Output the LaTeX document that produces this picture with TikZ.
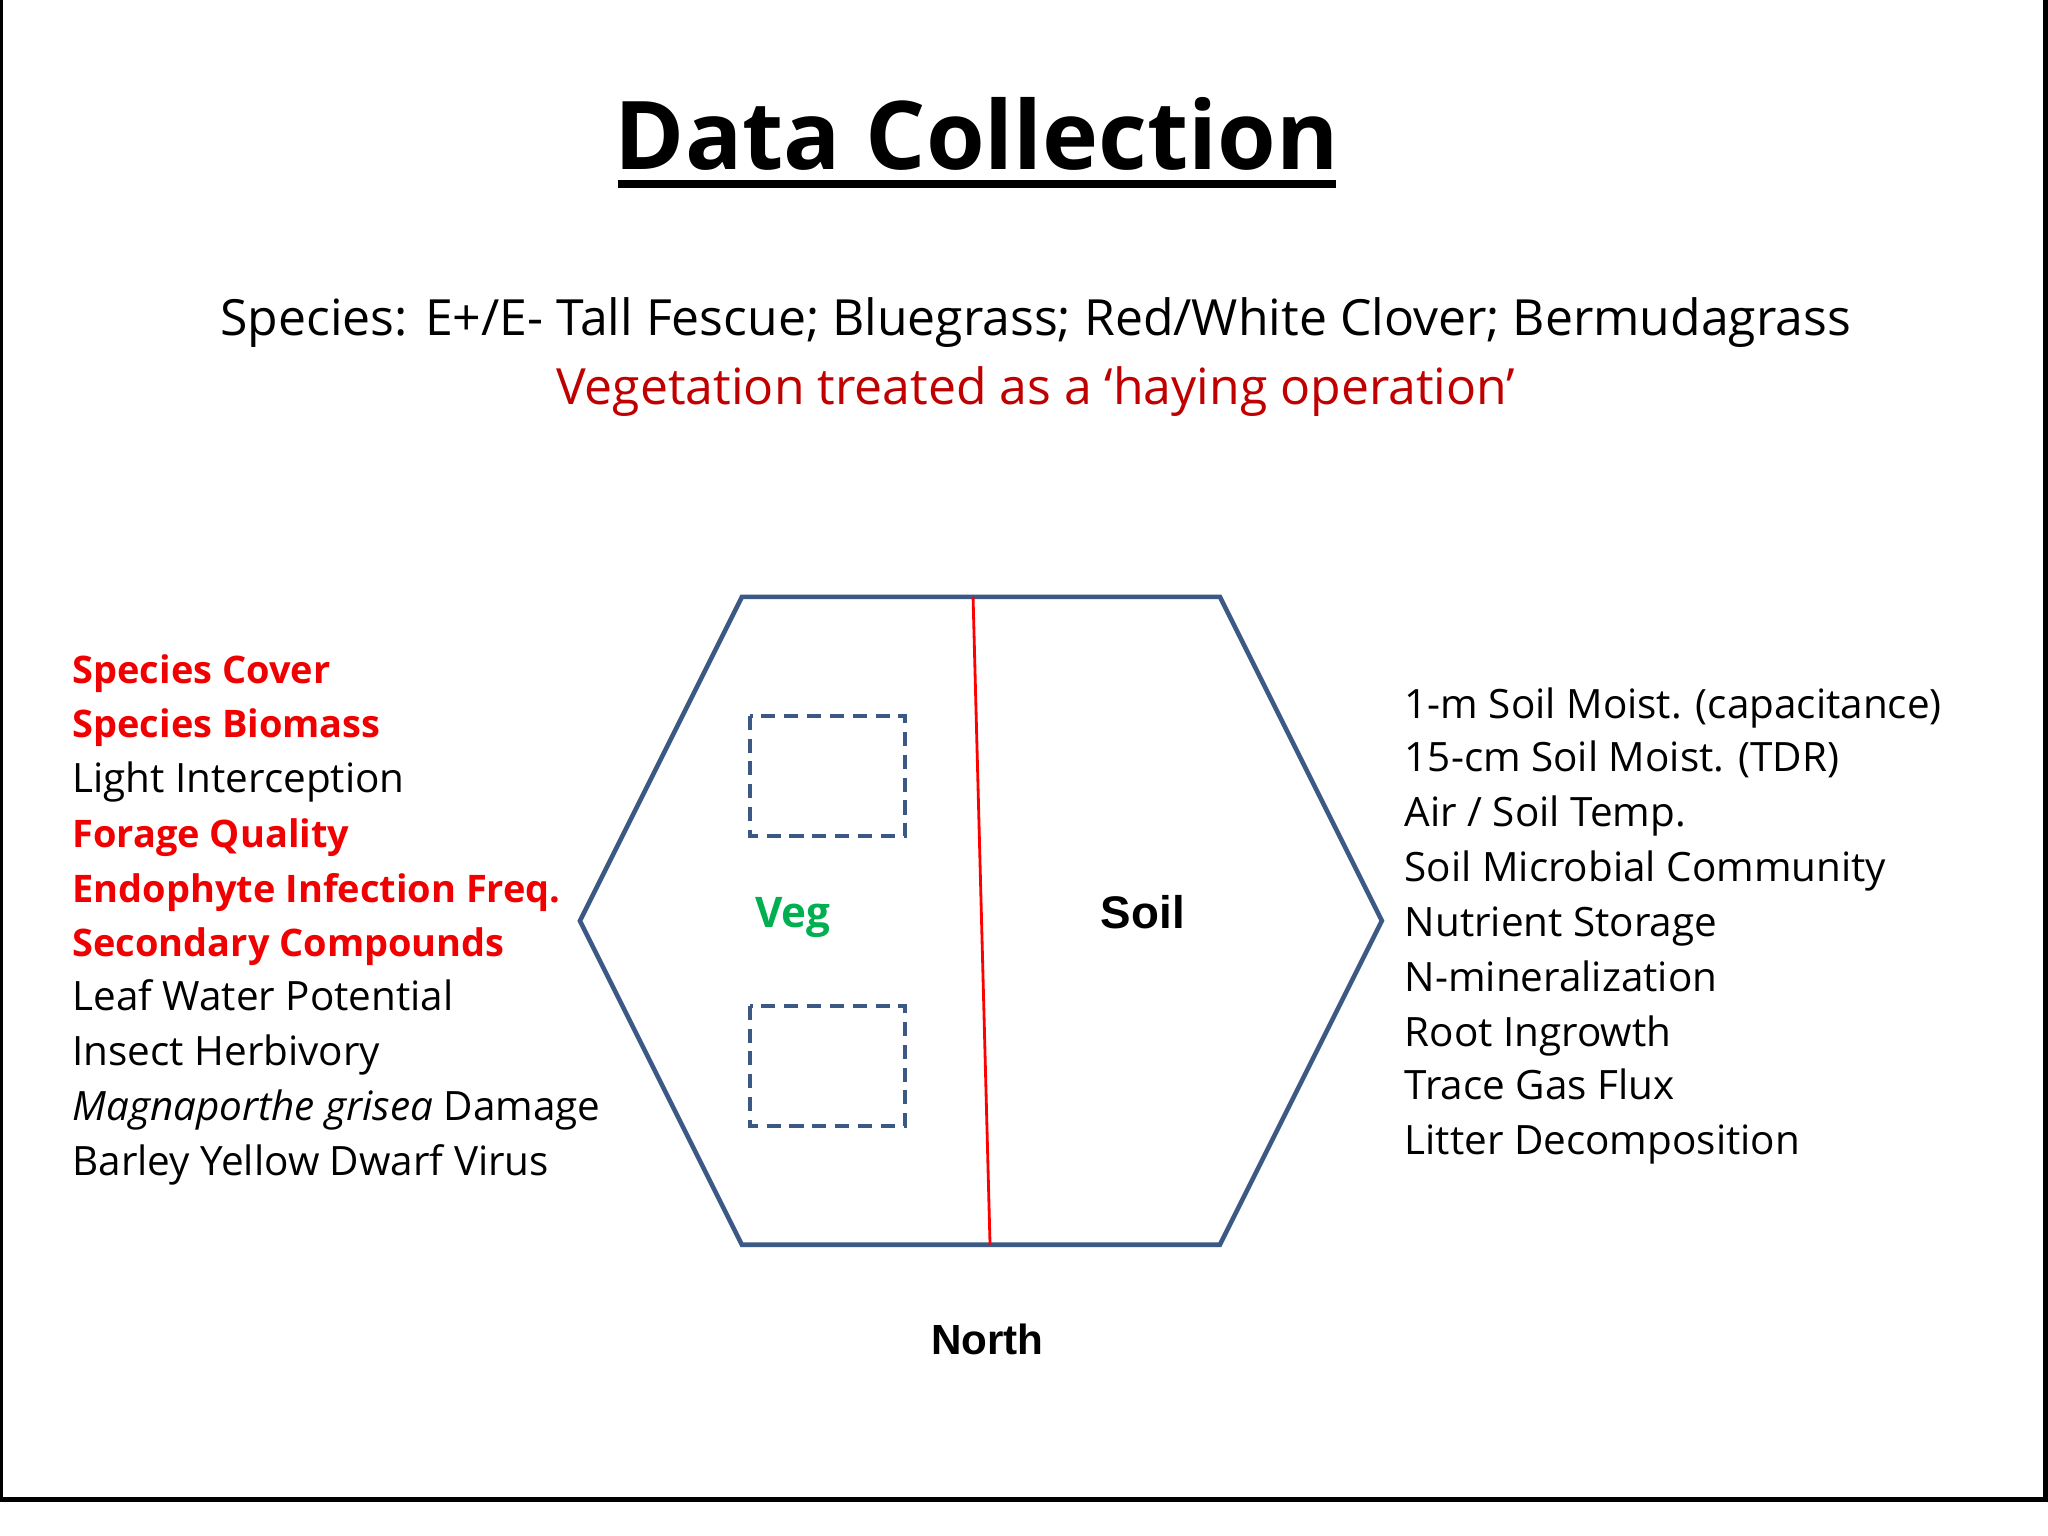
\documentclass[tikz,border=0pt]{standalone}
\usepackage{fontspec}
\setmainfont{Open Sans}
\newfontfamily\arialf{Liberation Sans}
\definecolor{hexblue}{RGB}{59,89,132}
\definecolor{darkred}{RGB}{192,0,0}
\definecolor{brred}{RGB}{240,0,0}
\definecolor{veggreen}{RGB}{0,176,80}
\begin{document}
\begin{tikzpicture}[x=0.01306cm,y=-0.01306cm,
  lt/.style={anchor=base west,inner sep=0,font=\fontsize{11.5pt}{13pt}\selectfont},
  rd/.style={lt,text=brred,font=\fontsize{10.8pt}{13pt}\selectfont\bfseries},
  plot/.style={draw=hexblue,line width=1.2pt,dash pattern=on 4pt off 2.5pt}]
\useasboundingbox (0,0) rectangle (1568,1176);
\fill[white] (0,0) rectangle (1568,1176);
\draw[line width=1.2pt] (1,0) -- (1,1148) -- (1566,1148) -- (1566,0);
\node[inner sep=0,anchor=base,font=\fontsize{27pt}{34pt}\selectfont\bfseries] (title) at (748,130) {Data Collection};
\draw[line width=2.2pt] (473,141) -- (1023,141);
\node[inner sep=0,anchor=base,font=\fontsize{14.2pt}{16pt}\selectfont] (species) at (793,257) {Species: E+/E- Tall Fescue; Bluegrass; Red/White Clover; Bermudagrass};
\node[inner sep=0,anchor=base,text=darkred,font=\fontsize{14.2pt}{16pt}\selectfont] (veg) at (793,310) {Vegetation treated as a ‘haying operation’};
\draw[hexblue,line width=1.3pt] (568,457) coordinate (h1) -- (934,457) -- (1058,705) -- (934,953) -- (568,953) -- (444,705) -- cycle;
\coordinate (rt) at (745,457); \coordinate (rb) at (758,953);
\draw[red,line width=0.8pt] (rt) -- (rb);
\draw[plot] (574,548) rectangle (693,640);
\draw[plot] (574,770) rectangle (693,862);
\node[anchor=base,inner sep=0,text=veggreen,font=\fontsize{12pt}{15pt}\selectfont\bfseries] (vg) at (607,710) {Veg};
\node[anchor=base,inner sep=0,font=\arialf\fontsize{13pt}{15pt}\selectfont\bfseries] (soil) at (875,711) {Soil};
\node[anchor=base,inner sep=0,font=\arialf\fontsize{12pt}{14pt}\selectfont\bfseries] (north) at (756,1037) {North};
\node[rd] (l1) at (55,523) {Species Cover};
\node[rd] (l2) at (55,565) {Species Biomass};
\node[lt] (l3) at (55,607) {Light Interception};
\node[rd] (l4) at (55,649) {Forage Quality};
\node[rd] (l5) at (55,691) {Endophyte Infection Freq.};
\node[rd] (l6) at (55,732) {Secondary Compounds};
\node[lt] (l7) at (55,774) {Leaf Water Potential};
\node[lt] (l8) at (55,816) {Insect Herbivory};
\node[lt] (l9) at (55,858) {\textit{Magnaporthe grisea} Damage};
\node[lt] (l10) at (55,900) {Barley Yellow Dwarf Virus};
\node[lt] (r1) at (1075,550) {1-m Soil Moist. (capacitance)};
\node[lt] (r2) at (1075,591) {15-cm Soil Moist. (TDR)};
\node[lt] (r3) at (1075,633) {Air / Soil Temp.};
\node[lt] (r4) at (1075,675) {Soil Microbial Community};
\node[lt] (r5) at (1075,717) {Nutrient Storage};
\node[lt] (r6) at (1075,759) {N-mineralization};
\node[lt] (r7) at (1075,801) {Root Ingrowth};
\node[lt] (r8) at (1075,842) {Trace Gas Flux};
\node[lt] (r9) at (1075,884) {Litter Decomposition};
\end{tikzpicture}
\end{document}
